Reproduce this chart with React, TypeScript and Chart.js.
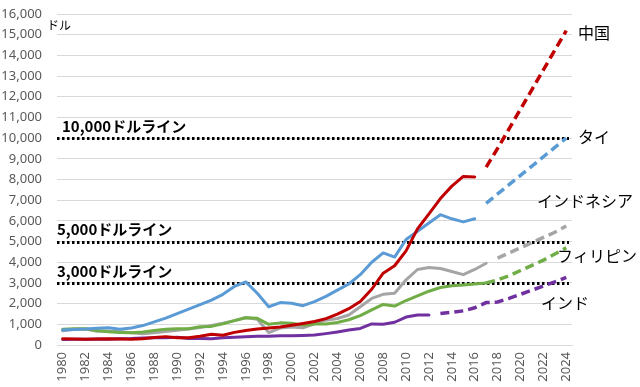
import { useEffect, useRef } from "react";
import { Chart, registerables } from "chart.js";

Chart.register(...registerables);

// ---- categories ----
const years = [
  "1980", "1981", "1982", "1983", "1984", "1985", "1986", "1987", "1988", "1989",
  "1990", "1991", "1992", "1993", "1994", "1995", "1996", "1997", "1998", "1999",
  "2000", "2001", "2002", "2003", "2004", "2005", "2006", "2007", "2008", "2009",
  "2010", "2011", "2012", "2013", "2014", "2015", "2016", "2017", "2018", "2019",
  "2020", "2021", "2022", "2023", "2024",
];

// ---- series (USD per capita) ----
// China: actual 1980-2016, forecast 2017-2024
const chinaActual = [
  300, 290, 280, 295, 305, 290, 280, 300, 365, 405,
  350, 355, 420, 520, 470, 610, 700, 775, 820, 865,
  950, 1040, 1135, 1275, 1490, 1755, 2100, 2695, 3470, 3830,
  4550, 5615, 6340, 7080, 7680, 8150, 8120,
];
const chinaForecast = [8600, 9500, 10450, 11400, 12350, 13300, 14250, 15200];

// Thailand: actual 1980-2016, forecast 2017-2024
const thaiActual = [
  720, 750, 770, 810, 830, 760, 820, 940, 1120, 1300,
  1520, 1730, 1950, 2170, 2450, 2830, 3050, 2500, 1850, 2050,
  2020, 1900, 2100, 2350, 2650, 2950, 3400, 4000, 4450, 4250,
  5100, 5500, 5900, 6300, 6100, 5950, 6100,
];
const thaiForecast = [6850, 7300, 7750, 8200, 8650, 9100, 9550, 10000];

// Indonesia: actual 1980-2017, forecast 2018-2024
const indonesiaActual = [
  690, 760, 770, 660, 660, 640, 590, 540, 590, 650,
  710, 770, 840, 950, 1050, 1180, 1330, 1240, 600, 820,
  870, 830, 1020, 1200, 1280, 1450, 1850, 2250, 2450, 2500,
  3150, 3650, 3750, 3700, 3550, 3400, 3650, 3950,
];
const indonesiaForecast = [4200, 4450, 4700, 4950, 5200, 5450, 5750];

// Philippines: actual 1980-2017, forecast 2017-2024
const philippinesActual = [
  760, 790, 790, 700, 640, 610, 590, 630, 700, 760,
  790, 790, 880, 900, 1020, 1180, 1320, 1290, 1000, 1070,
  1050, 960, 1010, 1020, 1090, 1220, 1420, 1700, 1960, 1880,
  2150, 2380, 2600, 2780, 2860, 2900, 2950, 3000,
];
const philippinesForecast = [3000, 3150, 3350, 3600, 3850, 4100, 4400, 4700];

// India: actual 1980-2012, forecast 2013-2024
const indiaActual = [
  270, 275, 280, 290, 280, 300, 310, 340, 350, 350,
  370, 310, 320, 300, 350, 380, 400, 420, 420, 450,
  450, 460, 480, 550, 630, 720, 800, 1020, 1000, 1100,
  1350, 1450, 1450,
];
const indiaForecast = [1520, 1580, 1650, 1800, 2050, 2080, 2250, 2450, 2650, 2850, 3050, 3270];

// ---- reference lines ----
const thresholds = [10000, 5000, 3000];
const thresholdLabels = ["10,000ドルライン", "5,000ドルライン", "3,000ドルライン"];

// ---- country labels ----
const countryNames = ["中国", "タイ", "インドネシア", "フィリピン", "インド"];

// ---- y ticks ----
const yMax = 16000;
const yStep = 1000;

function pad(values: number[], startIndex: number): (number | null)[] {
  const out: (number | null)[] = years.map(() => null);
  values.forEach((v, i) => {
    out[startIndex + i] = v;
  });
  return out;
}

const JP = '"Noto Sans CJK JP", "Noto Sans", sans-serif';

export default function App() {
  const ref = useRef<HTMLCanvasElement | null>(null);

  useEffect(() => {
    if (!ref.current) return;

    const overlay = {
      id: "overlay",
      beforeDatasetsDraw(chart: any) {
        const { ctx, chartArea, scales } = chart;
        const y = scales.y;
        ctx.save();
        ctx.strokeStyle = "#000000";
        ctx.lineWidth = 3;
        ctx.setLineDash([2.5, 2.5]);
        thresholds.forEach((v) => {
          const py = Math.round(y.getPixelForValue(v)) + 0.5;
          ctx.beginPath();
          ctx.moveTo(chartArea.left, py);
          ctx.lineTo(chartArea.right - 3, py);
          ctx.stroke();
        });
        ctx.restore();
      },
      afterDraw(chart: any) {
        const { ctx, chartArea, scales } = chart;
        const y = scales.y;
        ctx.save();
        ctx.fillStyle = "#000000";
        ctx.textBaseline = "middle";
        ctx.textAlign = "left";

        // threshold labels
        const labelDx = [5, 0, 0];
        ctx.font = `bold 15px ${JP}`;
        thresholdLabels.forEach((t, i) => {
          ctx.fillText(t, chartArea.left + labelDx[i], y.getPixelForValue(thresholds[i]) - 12);
        });

        // unit label
        ctx.font = `12px ${JP}`;
        ctx.fillText("ドル", chartArea.left - 10, y.getPixelForValue(15450));

        // country labels
        const pos = [
          { dx: 6, v: 15070 },
          { dx: 6, v: 10050 },
          { dx: -35, v: 6950 },
          { dx: -15, v: 4300 },
          { dx: -31, v: 2030 },
        ];
        ctx.font = `16px ${JP}`;
        countryNames.forEach((n, i) => {
          ctx.fillText(n, chartArea.right + pos[i].dx, y.getPixelForValue(pos[i].v));
        });
        ctx.restore();
      },
    };

    const solid = (label: string, data: (number | null)[], color: string) => ({
      label,
      data,
      borderColor: color,
      backgroundColor: color,
      borderWidth: 3,
      pointRadius: 0,
      tension: 0,
      spanGaps: false,
      borderCapStyle: "round" as const,
      borderJoinStyle: "round" as const,
    });
    const dashed = (label: string, data: (number | null)[], color: string) => ({
      label,
      data,
      borderColor: color,
      backgroundColor: color,
      borderWidth: 3.5,
      borderDash: [9, 5],
      pointRadius: 0,
      tension: 0,
      spanGaps: false,
    });

    const chart = new Chart(ref.current, {
      type: "line",
      data: {
        labels: years,
        datasets: [
          solid("中国", pad(chinaActual, 0), "#C00000"),
          dashed("中国予測", pad(chinaForecast, 37), "#C00000"),
          solid("タイ", pad(thaiActual, 0), "#5B9BD5"),
          dashed("タイ予測", pad(thaiForecast, 37), "#5B9BD5"),
          solid("フィリピン", pad(philippinesActual, 0), "#70AD47"),
          dashed("フィリピン予測", pad(philippinesForecast, 37), "#70AD47"),
          solid("インドネシア", pad(indonesiaActual, 0), "#A5A5A5"),
          dashed("インドネシア予測", pad(indonesiaForecast, 38), "#A5A5A5"),
          solid("インド", pad(indiaActual, 0), "#7030A0"),
          dashed("インド予測", pad(indiaForecast, 33), "#7030A0"),
        ],
      },
      options: {
        animation: false,
        responsive: false,
        maintainAspectRatio: false,
        layout: { padding: { top: 14, right: 68, left: 0, bottom: 0 } },
        plugins: {
          legend: { display: false },
          tooltip: { enabled: false },
        },
        scales: {
          x: {
            type: "category",
            offset: true,
            grid: { display: false, drawTicks: false },
            border: { display: true, color: "#D9D9D9", width: 1 },
            ticks: {
              autoSkip: false,
              maxRotation: 90,
              minRotation: 90,
              padding: 7,
              color: "#595959",
              font: { family: '"Noto Sans", sans-serif', size: 13 },
              callback: (_v: any, i: number) => (i % 2 === 0 ? years[i] : ""),
            },
            afterFit: (s: any) => {
              s.height = 42;
            },
          },
          y: {
            min: 0,
            max: yMax,
            grid: {
              color: "#D9D9D9",
              lineWidth: 1,
              drawTicks: true,
              tickLength: 15,
              tickColor: "rgba(0,0,0,0)",
            },
            border: { display: false },
            ticks: {
              stepSize: yStep,
              padding: 0,
              color: "#595959",
              font: { family: '"Noto Sans", sans-serif', size: 13 },
              callback: (v: any) => Number(v).toLocaleString("en-US"),
            },
            afterFit: (s: any) => {
              s.width = 57;
            },
          },
        },
      },
      plugins: [overlay],
    });

    return () => chart.destroy();
  }, []);

  return (
    <div style={{ position: "fixed", left: 0, top: 0, width: 640, height: 387, background: "#fff" }}>
      <canvas ref={ref} width={640} height={387} style={{ width: 640, height: 387 }} />
    </div>
  );
}
